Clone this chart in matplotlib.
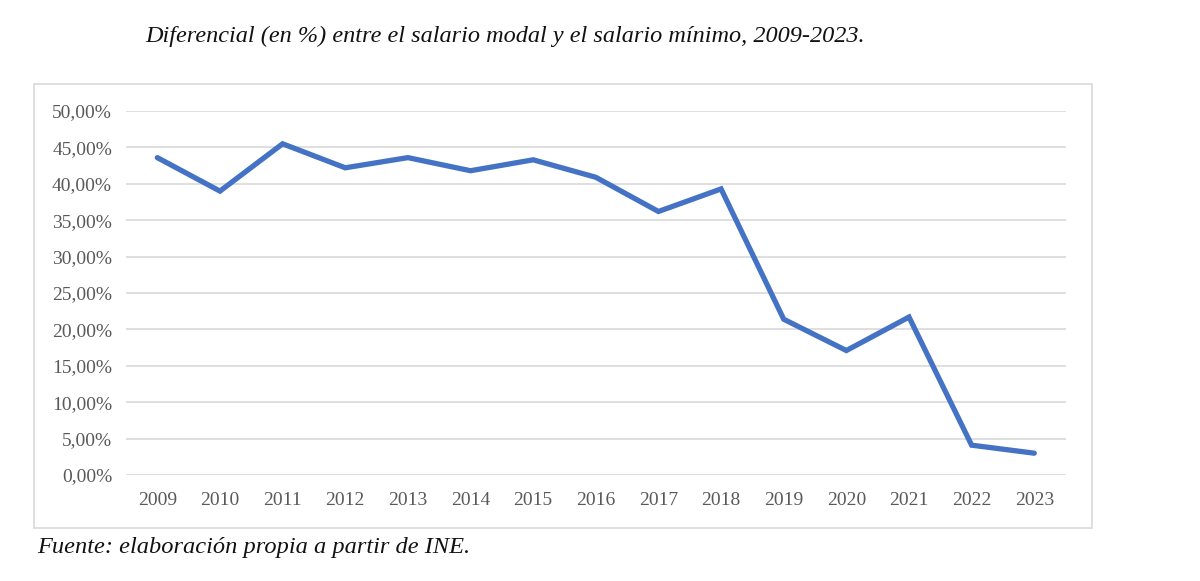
import matplotlib.pyplot as plt
from matplotlib.patches import Rectangle
from matplotlib.ticker import FuncFormatter, MultipleLocator

years = [str(y) for y in range(2009, 2024)]
diferencial = [43.6, 39.0, 45.5, 42.2, 43.6, 41.8, 43.3, 40.9, 36.2, 39.3,
               21.4, 17.1, 21.7, 4.1, 3.0]

title = "Diferencial (en %) entre el salario modal y el salario mínimo, 2009-2023."
source = "Fuente: elaboración propia a partir de INE."

plt.rcParams["font.family"] = ["Liberation Serif", "DejaVu Serif"]

fig = plt.figure(figsize=(12, 5.81), dpi=100)
ax = fig.add_axes([0.105, 0.1824, 0.783, 0.6265])

ax.plot(range(len(years)), diferencial, color="#4472C4", linewidth=3.8,
        solid_capstyle="round", solid_joinstyle="miter")

ax.set_xlim(-0.5, len(years) - 0.5)
ax.set_ylim(0, 50)
ax.set_xticks(range(len(years)))
ax.set_xticklabels(years)
ax.yaxis.set_major_locator(MultipleLocator(5))
ax.yaxis.set_major_formatter(FuncFormatter(lambda v, _: f"{v:.2f}".replace(".", ",") + "%"))

ax.grid(axis="y", color="#d9d9d9", linewidth=1.2)
ax.set_axisbelow(True)
for s in ax.spines.values():
    s.set_visible(False)
ax.tick_params(axis="both", length=0, colors="#595959")
ax.tick_params(axis="y", labelsize=14, pad=10)
ax.tick_params(axis="x", labelsize=14, pad=12)

# chart frame
fig.patches.append(Rectangle((34 / 1200, 1 - 528 / 581), (1092 - 34) / 1200, (528 - 84) / 581,
                             transform=fig.transFigure, fill=False,
                             edgecolor="#d9d9d9", linewidth=1.2))

fig.text(505 / 1200, 1 - 36 / 581, title, ha="center", va="center",
         fontsize=17.5, style="italic", color="#111111")
fig.text(37 / 1200, 1 - 548 / 581, source, ha="left", va="center",
         fontsize=17.6, style="italic", color="#111111")

fig.savefig("out.png", dpi=100)
